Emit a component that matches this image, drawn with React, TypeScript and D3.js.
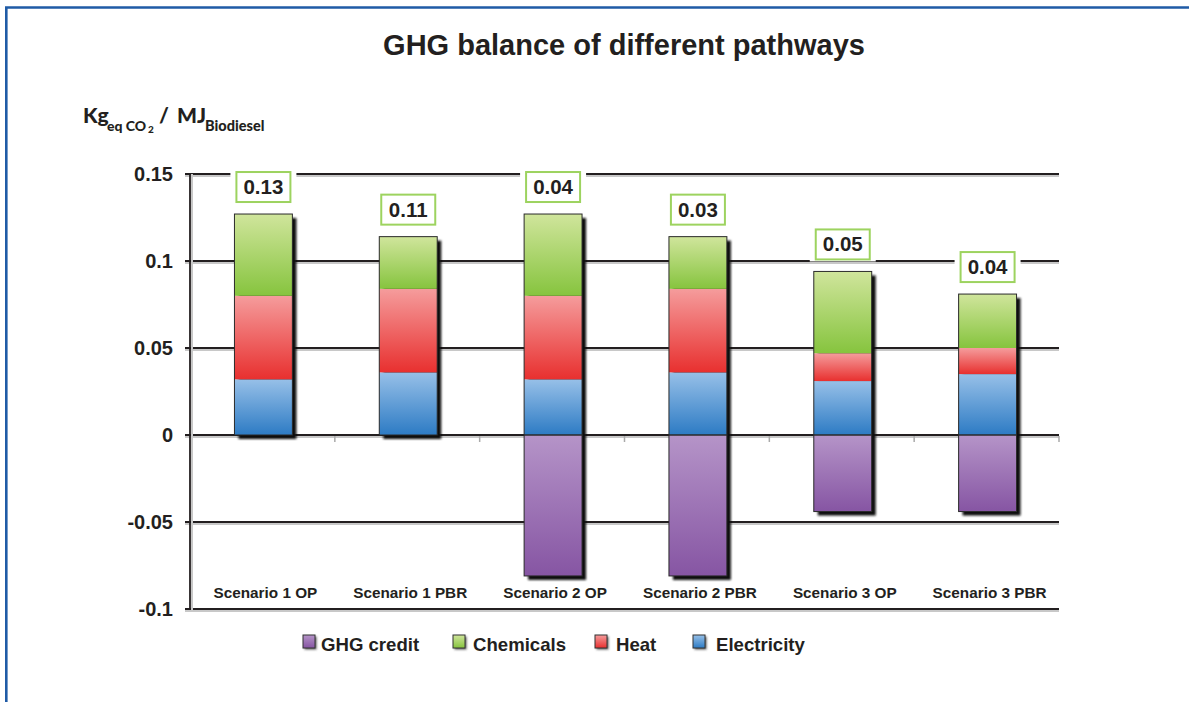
import React from "react";
import * as d3 from "d3";

const categories = ["Scenario 1 OP", "Scenario 1 PBR", "Scenario 2 OP", "Scenario 2 PBR", "Scenario 3 OP", "Scenario 3 PBR"];
const electricity = [0.032, 0.036, 0.032, 0.036, 0.031, 0.035];
const heat = [0.048, 0.048, 0.048, 0.048, 0.016, 0.015];
const chemicals = [0.047, 0.030, 0.047, 0.030, 0.047, 0.031];
const ghgCredit = [0, 0, -0.081, -0.081, -0.044, -0.044];
const netLabels = ["0.13", "0.11", "0.04", "0.03", "0.05", "0.04"];
const yTicks = [0.15, 0.1, 0.05, 0, -0.05, -0.1];
const yTickLabels = ["0.15", "0.1", "0.05", "0", "-0.05", "-0.1"];
const seriesKeys = ["ghgCredit", "electricity", "heat", "chemicals"];
const legendItems = ["GHG credit", "Chemicals", "Heat", "Electricity"];
const legendKeys = ["ghgCredit", "chemicals", "heat", "electricity"];

const gradients: Record<string, [string, string]> = {
  ghgCredit: ["#b594c8", "#8655a3"],
  electricity: ["#97c0e8", "#2d7bc4"],
  heat: ["#f59c9c", "#e8302f"],
  chemicals: ["#d0e59c", "#86c43e"],
};

const W = 1189;
const H = 702;
const FONT = "'Liberation Sans', Arial, Helvetica, sans-serif";
const TXT = "#231f20";

export default function App() {
  const rows = categories.map((c, i) => ({
    category: c,
    ghgCredit: ghgCredit[i],
    electricity: electricity[i],
    heat: heat[i],
    chemicals: chemicals[i],
  }));
  const stack = d3.stack<any>().keys(seriesKeys).offset(d3.stackOffsetDiverging);
  const series = stack(rows);

  const y = d3.scaleLinear().domain([-0.1, 0.15]).range([609, 174]);
  const x = d3.scaleBand<string>().domain(categories).range([191, 1060]).paddingInner(0.6).paddingOuter(0.3);
  const xAxisLeft = 190;
  const xAxisRight = 1059;
  const bw = x.bandwidth();

  const tops = rows.map((r) => r.electricity + r.heat + r.chemicals);
  const bottoms = rows.map((r) => Math.min(0, r.ghgCredit));

  const legendX = [303, 453, 595, 693];
  const legendTextX = [321, 473, 616, 716];

  return (
    <svg width={W} height={H} style={{ position: "absolute", left: 0, top: 0, background: "#fff" }}>
      <defs>
        {Object.entries(gradients).map(([k, [a, b]]) => (
          <linearGradient key={k} id={`g-${k}`} x1="0" y1="0" x2="0" y2="1">
            <stop offset="0%" stopColor={a} />
            <stop offset="100%" stopColor={b} />
          </linearGradient>
        ))}
        <filter id="blur" x="-20%" y="-20%" width="140%" height="140%">
          <feGaussianBlur stdDeviation="0.8" />
        </filter>
      </defs>
      <rect x={0} y={0} width={W} height={H} fill="#fff" />
      {/* frame */}
      <path d={`M6.3,${H + 5} V7.5 H${W + 5}`} fill="none" stroke="#1f5ba6" strokeWidth={2.6} />

      {/* title */}
      <text x={624} y={55} textAnchor="middle" fontFamily={FONT} fontWeight="bold" fontSize={29} fill={TXT}>
        GHG balance of different pathways
      </text>

      {/* y-axis unit label */}
      <g fontFamily="Lato, 'Open Sans', sans-serif" fontWeight="900" fill={TXT}>
        <text x={83} y={123} fontSize={21}>Kg</text>
        <text x={107} y={131} fontSize={14}>eq CO</text>
        <text x={148} y={133} fontSize={10}>2</text>
        <text x={159} y={123} fontSize={21}>/</text>
        <text x={177} y={123} fontSize={21}>MJ</text>
        <text x={205} y={131} fontSize={14.5}>Biodiesel</text>
      </g>

      {/* gridlines */}
      {yTicks.map((t) => (
        <g key={`grid-${t}`}>
          <line x1={185} x2={xAxisRight} y1={y(t) + 2} y2={y(t) + 2} stroke="#c8c8c8" strokeWidth={2} />
          <line x1={185} x2={xAxisRight} y1={y(t)} y2={y(t)} stroke="#231f20" strokeWidth={1.8} />
        </g>
      ))}
      {/* y axis */}
      <line x1={xAxisLeft + 2} x2={xAxisLeft + 2} y1={y(0.15)} y2={y(-0.1) + 1} stroke="#c8c8c8" strokeWidth={2} />
      <line x1={xAxisLeft} x2={xAxisLeft} y1={y(0.15)} y2={y(-0.1) + 1} stroke="#231f20" strokeWidth={1.8} />
      {/* category boundary ticks on zero line */}
      {categories.map((c, i) => {
        const bx = xAxisLeft + (i + 1) * ((xAxisRight - xAxisLeft) / categories.length);
        return <line key={`tk-${c}`} x1={bx} x2={bx} y1={y(0) + 1} y2={y(0) + 7} stroke="#aaa" strokeWidth={1.5} />;
      })}

      {/* y tick labels */}
      {yTicks.map((t, i) => (
        <text key={`yl-${t}`} x={173} y={y(t) + 7} textAnchor="end" fontFamily={FONT} fontWeight="bold" fontSize={20} fill={TXT}>
          {yTickLabels[i]}
        </text>
      ))}

      {/* bar shadows */}
      {categories.map((c, i) => (
        <rect key={`sh-${c}`} x={x(c)! + 4} y={y(tops[i]) + 4} width={bw} height={y(bottoms[i]) - y(tops[i])} fill="#111" filter="url(#blur)" />
      ))}

      {/* stacked segments */}
      {series.map((s) => (
        <g key={s.key}>
          {s.map((d, i) => {
            const y0 = Math.max(d[0], d[1]);
            const y1 = Math.min(d[0], d[1]);
            const h = y(y1) - y(y0);
            if (h <= 0.01) return null;
            return <rect key={i} x={x(categories[i])!} y={y(y0)} width={bw} height={h} fill={`url(#g-${s.key})`} />;
          })}
        </g>
      ))}
      {/* bar outlines */}
      {categories.map((c, i) => (
        <g key={`ol-${c}`}>
          <rect x={x(c)!} y={y(tops[i])} width={bw} height={y(0) - y(tops[i])} fill="none" stroke="#2a2a2a" strokeWidth={1} />
          {bottoms[i] < 0 && (
            <rect x={x(c)!} y={y(0)} width={bw} height={y(bottoms[i]) - y(0)} fill="none" stroke="#2a2a2a" strokeWidth={1} />
          )}
        </g>
      ))}

      {/* net value boxes */}
      {categories.map((c, i) => {
        const cx = x(c)! + bw / 2;
        const bottom = y(tops[i]) - 12;
        return (
          <g key={`nb-${c}`}>
            <rect x={cx - 33} y={bottom - 32} width={66} height={34} fill="#fff" />
            <rect x={cx - 27} y={bottom - 30} width={54} height={30} fill="#fff" stroke="#9dd35f" strokeWidth={2} />
            <text x={cx} y={bottom - 8} textAnchor="middle" fontFamily={FONT} fontWeight="bold" fontSize={20.5} fill={TXT}>
              {netLabels[i]}
            </text>
          </g>
        );
      })}

      {/* category labels */}
      {categories.map((c) => (
        <text key={`cl-${c}`} x={x(c)! + bw / 2 + 2} y={598} textAnchor="middle" fontFamily={FONT} fontWeight="bold" fontSize={15.3} fill={TXT}>
          {c}
        </text>
      ))}

      {/* legend */}
      {legendItems.map((name, i) => (
        <g key={`lg-${name}`}>
          <rect x={legendX[i] + 1.5} y={636.5} width={12} height={13} fill="#555" filter="url(#blur)" />
          <rect x={legendX[i]} y={635} width={12} height={13} fill={`url(#g-${legendKeys[i]})`} stroke="#333" strokeWidth={1} />
          <text x={legendTextX[i]} y={651} fontFamily={FONT} fontWeight="bold" fontSize={18.6} fill={TXT}>
            {name}
          </text>
        </g>
      ))}
    </svg>
  );
}
